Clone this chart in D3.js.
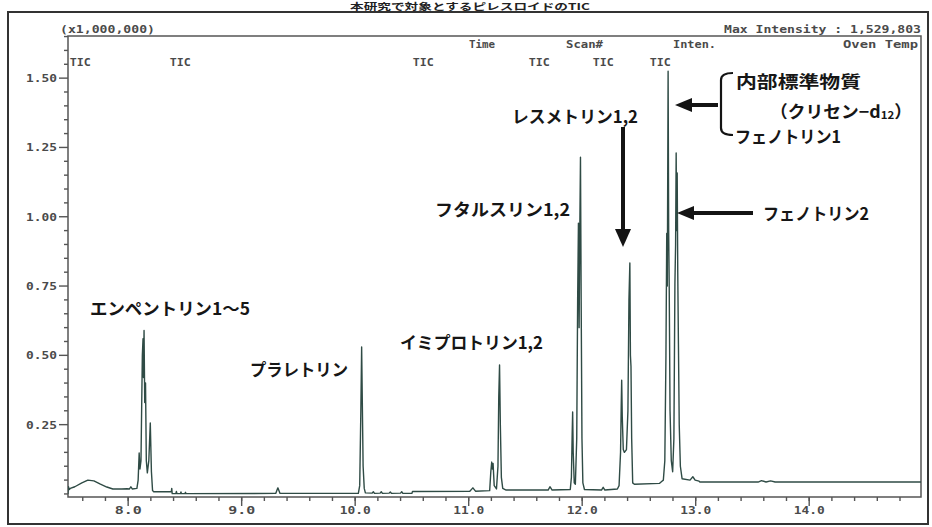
<!DOCTYPE html>
<html><head><meta charset="utf-8">
<script src="https://cdn.jsdelivr.net/npm/d3@7"></script>
<style>
html,body{margin:0;padding:0;background:#fff;}
svg{display:block;}
</style></head>
<body>
<svg id="c" width="932" height="527"></svg>
<script>
// ---------- DATA (time in min, intensity in x1,000,000) ----------
const xMajorTicks = [8, 9, 10, 11, 12, 13, 14];
const xTickLabels = ["8.0", "9.0", "10.0", "11.0", "12.0", "13.0", "14.0"];
const yMajorTicks = [0.25, 0.50, 0.75, 1.00, 1.25, 1.50];
const yTickLabels = ["0.25", "0.50", "0.75", "1.00", "1.25", "1.50"];
const ticSegmentStarts = [7.486, 8.367, 10.508, 11.530, 12.094, 12.596];

const baselineStart = [[7.469,0.000],[7.474,0.026],[7.481,0.016],[7.490,0.020],[7.530,0.026],[7.592,0.040],[7.645,0.050],[7.698,0.047],[7.751,0.036],[7.812,0.025],[7.865,0.018],[7.944,0.018],[7.989,0.019],[8.012,0.018],[8.024,0.026],[8.036,0.018],[8.077,0.020]];
const empenthrinPeaks = [[8.088,0.05],[8.097,0.148],[8.104,0.09],[8.113,0.12],[8.125,0.50],[8.131,0.56],[8.135,0.42],[8.140,0.59],[8.146,0.33],[8.153,0.40],[8.160,0.12],[8.169,0.076],[8.182,0.12],[8.195,0.256],[8.205,0.08],[8.215,0.012],[8.225,0.008]];
const baselineMid1 = [[8.380,0.008],[8.384,0.020],[8.388,0.001],[8.420,0.001],[8.425,0.009],[8.430,0.001],[8.460,0.001],[8.465,0.007],[8.470,0.001],[8.500,0.001],[8.505,0.006],[8.510,0.001],[9.300,0.002],[9.319,0.022],[9.338,0.002],[10.028,0.002]];
const prallethrinPeak = [[10.040,0.03],[10.050,0.30],[10.057,0.53],[10.063,0.33],[10.070,0.10],[10.080,0.02],[10.090,0.004]];
const baselineMid2 = [[10.150,0.003],[10.160,0.008],[10.170,0.002],[10.220,0.003],[10.230,0.008],[10.240,0.002],[10.300,0.003],[10.310,0.007],[10.320,0.002],[10.400,0.003],[10.410,0.008],[10.420,0.002],[10.500,0.002],[10.505,0.009],[11.010,0.010],[11.037,0.022],[11.060,0.010],[11.185,0.012]];
const imiprothrinPeaks = [[11.195,0.08],[11.203,0.115],[11.209,0.09],[11.215,0.11],[11.225,0.03],[11.245,0.018],[11.258,0.10],[11.265,0.35],[11.272,0.465],[11.279,0.25],[11.288,0.06],[11.300,0.020],[11.330,0.014]];
const baselineMid3 = [[11.700,0.014],[11.716,0.026],[11.735,0.014],[11.895,0.016]];
const phthalthrinPeaks = [[11.905,0.06],[11.912,0.22],[11.916,0.296],[11.921,0.15],[11.930,0.04],[11.940,0.035],[11.952,0.20],[11.960,0.70],[11.967,0.977],[11.973,0.60],[11.979,0.95],[11.985,1.215],[11.991,0.70],[11.998,0.20],[12.006,0.04],[12.020,0.016]];
const baselineMid4 = [[12.170,0.014],[12.185,0.024],[12.200,0.014],[12.310,0.018]];
const resmethrinPeaks = [[12.325,0.03],[12.338,0.15],[12.344,0.32],[12.348,0.41],[12.353,0.28],[12.362,0.16],[12.372,0.15],[12.390,0.16],[12.403,0.30],[12.412,0.70],[12.420,0.833],[12.425,0.50],[12.430,0.46],[12.436,0.20],[12.445,0.04],[12.460,0.035]];
const baselineMid5 = [[12.680,0.038],[12.700,0.045]];
const phenothrinPeaks = [[12.715,0.05],[12.728,0.12],[12.738,0.50],[12.745,0.94],[12.750,0.75],[12.757,1.525],[12.762,0.95],[12.767,0.735],[12.774,0.30],[12.785,0.12],[12.797,0.08],[12.808,0.20],[12.817,0.76],[12.823,0.90],[12.828,1.23],[12.832,0.95],[12.837,1.158],[12.842,0.80],[12.848,0.54],[12.855,0.25],[12.865,0.10],[12.880,0.055]];
const baselineEnd = [[12.950,0.050],[12.975,0.062],[12.995,0.050],[13.030,0.046],[13.037,0.043],[13.550,0.043],[13.580,0.048],[13.620,0.043],[13.660,0.047],[13.700,0.043],[14.985,0.043]];

const peakLabels = ["エンペントリン1～5", "プラレトリン", "イミプロトリン1,2", "フタルスリン1,2", "レスメトリン1,2", "内部標準物質", "フェノトリン1", "フェノトリン2"];

// ---------- DRAW ----------
const svg = d3.select("#c");
const L = 68, R = 921, T = 36, B = 497;
const x = d3.scaleLinear().domain([7.47, 14.985]).range([L, R]);
const y = d3.scaleLinear().domain([-0.011, 1.652]).range([B, T]);

const mono = "'DejaVu Sans Mono','Liberation Mono',monospace";
const jp = "'Noto Sans CJK JP','Noto Sans CJK SC',sans-serif";
const monoCol = "#4a4a4a";

// outer frame
svg.append("rect").attr("x", 8).attr("y", 12).attr("width", 920).attr("height", 512)
  .attr("fill", "none").attr("stroke", "#333").attr("stroke-width", 2);

// title above the frame (kept fully visible)
svg.append("text").attr("x", 350).attr("y", 6).attr("font-family", jp).attr("font-weight", 700)
  .attr("font-size", 9).attr("fill", "#222").attr("dominant-baseline", "central")
  .attr("textLength", 240).attr("lengthAdjust", "spacingAndGlyphs")
  .text("本研究で対象とするピレスロイドのTIC");

function monoText(tx, ty, str, w, anchor) {
  return svg.append("text").attr("x", tx).attr("y", ty).attr("font-family", mono)
    .attr("font-size", 10.5).attr("font-weight", 700).attr("fill", monoCol)
    .attr("dominant-baseline", "central").attr("text-anchor", anchor || "start")
    .attr("textLength", w).attr("lengthAdjust", "spacingAndGlyphs").text(str);
}
monoText(60, 29, "(x1,000,000)", 95);
monoText(724, 29, "Max Intensity : 1,529,803", 197);
monoText(469, 44, "Time", 26);
monoText(566, 44, "Scan#", 37);
monoText(673, 44, "Inten.", 43);
monoText(843, 44, "Oven Temp", 75);

// plot box
svg.append("rect").attr("x", L).attr("y", T).attr("width", R - L).attr("height", B - T)
  .attr("fill", "none").attr("stroke", "#555").attr("stroke-width", 1.5);

// TIC labels
ticSegmentStarts.forEach(t => monoText(x(t), 62, "TIC", 21));

// y axis ticks
const yMinor = d3.range(0, 1.651, 0.05);
const gy = svg.append("g").attr("stroke", "#555").attr("stroke-width", 1.4);
yMinor.forEach(v => {
  const major = yMajorTicks.some(m => Math.abs(m - v) < 1e-6);
  gy.append("line").attr("x1", L - (major ? 9 : 4)).attr("x2", L).attr("y1", y(v)).attr("y2", y(v));
});
yMajorTicks.forEach((v, i) => monoText(57, y(v), yTickLabels[i], 31, "end"));

// x axis ticks
const xMinor = d3.range(7.6, 14.91, 0.2);
const gx = svg.append("g").attr("stroke", "#555").attr("stroke-width", 1.4);
xMinor.forEach(t => gx.append("line").attr("x1", x(t)).attr("x2", x(t)).attr("y1", B).attr("y2", B + 4));
xMajorTicks.forEach((t, i) => {
  gx.append("line").attr("x1", x(t)).attr("x2", x(t)).attr("y1", B).attr("y2", B + 9);
  monoText(x(t), 510, xTickLabels[i], xTickLabels[i].length === 3 ? 27 : 31, "middle");
});

// trace
const trace = [].concat(baselineStart, empenthrinPeaks, baselineMid1, prallethrinPeak, baselineMid2,
  imiprothrinPeaks, baselineMid3, phthalthrinPeaks, baselineMid4, resmethrinPeaks, baselineMid5,
  phenothrinPeaks, baselineEnd);
svg.append("defs").append("clipPath").attr("id", "pc").append("rect")
  .attr("x", L).attr("y", T).attr("width", R - L).attr("height", B - T);
svg.append("path").datum(trace).attr("clip-path", "url(#pc)")
  .attr("fill", "none").attr("stroke", "#2f4b45").attr("stroke-width", 1.4).attr("stroke-linejoin", "round")
  .attr("d", d3.line().x(d => x(d[0])).y(d => y(d[1])));

// annotations
function jpText(tx, ty, str, w) {
  return svg.append("text").attr("x", tx).attr("y", ty).attr("font-family", jp).attr("font-weight", 700)
    .attr("font-size", 17).attr("fill", "#161616").attr("dominant-baseline", "central")
    .attr("textLength", w).attr("lengthAdjust", "spacingAndGlyphs").text(str);
}
jpText(90, 307, peakLabels[0], 160);
jpText(250, 368, peakLabels[1], 98);
jpText(400, 341, peakLabels[2], 143);
jpText(435, 208, peakLabels[3], 135);
jpText(512, 115, peakLabels[4], 126);
jpText(736, 80, peakLabels[5], 125);
jpText(735, 135, peakLabels[6], 106);
jpText(763, 212, peakLabels[7], 106);
// (クリセン−d12)
const ct = svg.append("text").attr("x", 770).attr("y", 110).attr("font-family", jp).attr("font-weight", 700)
  .attr("font-size", 17).attr("fill", "#161616").attr("dominant-baseline", "central")
  .attr("textLength", 142).attr("lengthAdjust", "spacingAndGlyphs");
ct.append("tspan").text("（クリセン−d");
ct.append("tspan").attr("font-size", 11).attr("dy", 4).text("12");
ct.append("tspan").attr("dy", -4).text("）");

// arrows
const ink = "#141414";
function arrow(x1, y1, x2, y2, headLen, headHalf, sw) {
  const ang = Math.atan2(y2 - y1, x2 - x1);
  const bx = x2 - headLen * Math.cos(ang), by = y2 - headLen * Math.sin(ang);
  svg.append("line").attr("x1", x1).attr("y1", y1).attr("x2", bx).attr("y2", by)
    .attr("stroke", ink).attr("stroke-width", sw);
  const px = -Math.sin(ang) * headHalf, py = Math.cos(ang) * headHalf;
  svg.append("polygon").attr("fill", ink)
    .attr("points", `${x2},${y2} ${bx + px},${by + py} ${bx - px},${by - py}`);
}
arrow(623, 127, 623, 247, 18, 8, 4);
arrow(718, 105, 675, 105, 17, 7, 4);
arrow(753, 213, 677, 213, 17, 7, 4);
// bracket
svg.append("path").attr("fill", "none").attr("stroke", ink).attr("stroke-width", 2.2)
  .attr("d", "M733,73 Q721,73 721,80 L721,128 Q721,135 733,135");
</script>
</body></html>
